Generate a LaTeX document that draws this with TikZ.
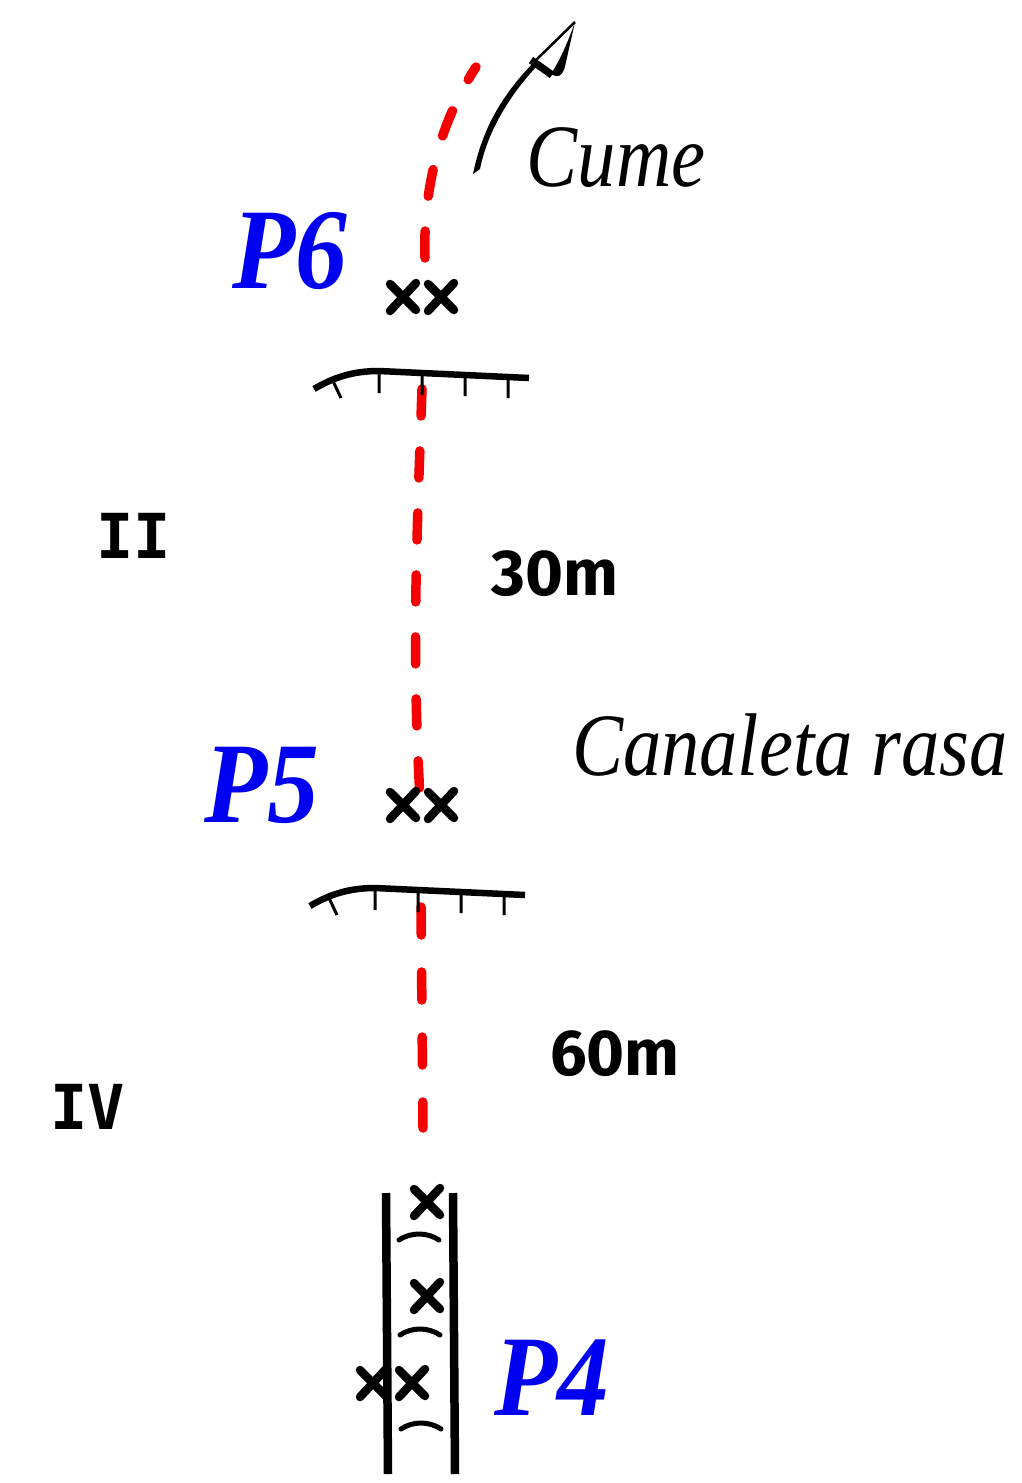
\documentclass[tikz,border=0pt]{standalone}
\usepackage{fontspec}
\setmainfont{Liberation Serif}
\newfontfamily\noteFont[ItalicFeatures={FakeStretch=0.86}]{Liberation Serif}
\newfontfamily\pitchFont[BoldItalicFeatures={FakeStretch=0.9}]{Liberation Serif}
\newfontfamily\grauFont{DejaVu Sans Mono}
\newfontfamily\metroFont{Fira Sans}
\usetikzlibrary{positioning,calc}
\definecolor{routered}{RGB}{245,0,0}
\definecolor{belayblue}{RGB}{0,0,240}
\tikzset{
  route/.style={draw=routered, line width=9.5pt, line cap=round, dash pattern=on 27pt off 35pt},
  boltline/.style={line width=8.5pt, line cap=round},
  pitchlabel/.style={anchor=base, inner sep=0pt, text=belayblue, font=\fontsize{115}{115}\selectfont\pitchFont\bfseries\itshape},
  notelabel/.style={anchor=base, inner sep=0pt, font=\fontsize{89}{89}\selectfont\noteFont\itshape},
  gradelabel/.style={anchor=base, inner sep=0pt, font=\fontsize{62}{62}\selectfont\grauFont\bfseries},
  lengthlabel/.style={anchor=base, inner sep=0pt, font=\fontsize{65}{65}\selectfont\metroFont\bfseries},
  wall/.style={line width=8.5pt},
  bolt/.pic={\draw[boltline] (-13,-13) -- (13,13) (13,-14) -- (-13,14);},
  ring/.pic={\draw[line width=5pt, line cap=round] (-20,4) .. controls (-8,-4) and (8,-4) .. (20,4);},
  roof/.pic={
    \draw[line width=6.5pt] (0,0) .. controls (20,-12) and (40,-18) .. (65,-18) -- (215,-11);
    \draw[line width=3pt] (19,-8) -- (27,9) (65,-18) -- (65,4) (108,-16) -- (108,6)
      (151,-14) -- (151,7) (194,-12) -- (194,9);
  }
}
\begin{document}
\begin{tikzpicture}[x=1pt,y=-1pt]
  \useasboundingbox (0,0) rectangle (1021,1483);
  % route
  \coordinate (p6top) at (476,67);
  \coordinate (p6low) at (425,258);
  \coordinate (roofsix) at (422,389);
  \coordinate (p5low) at (420,798);
  \coordinate (roofive) at (421,907);
  \coordinate (p4top) at (423,1128);
  \draw[route] (p6low) .. controls (423,200) and (435,130) .. (p6top);
  \draw[route] (roofsix) .. controls (416,560) and (412,650) .. (p5low);
  \draw[route, dash pattern=on 28pt off 37pt] (roofive) -- (p4top);
  % belays
  \pic at (403,297) {bolt};
  \pic at (441,297) {bolt};
  \pic at (403,805) {bolt};
  \pic at (441,805) {bolt};
  \pic at (427,1202) {bolt};
  \pic at (427,1296) {bolt};
  \pic at (373,1383) {bolt};
  \pic at (412,1383) {bolt};
  % roofs
  \pic at (314,389) {roof};
  \pic at (310,906) {roof};
  % dihedral
  \coordinate (leftwalltop) at (386,1193);
  \coordinate (leftwallend) at (388,1474);
  \coordinate (rightwalltop) at (453,1193);
  \coordinate (rightwallend) at (455,1474);
  \draw[wall] (leftwalltop) -- (leftwallend);
  \draw[wall] (rightwalltop) -- (rightwallend);
  \pic at (419,1236) {ring};
  \pic at (420,1331) {ring};
  \pic at (421,1425) {ring};
  % arrow to the summit
  \coordinate (cumetail) at (473,174);
  \coordinate (cumeneck) at (534,62);
  \coordinate (cumetip) at (575,22);
  \fill (cumetail) .. controls (483,125) and (505,92) .. (cumeneck)
    -- (537,66) .. controls (510,95) and (488,130) .. (480,169) -- cycle;
  \draw[line width=7.5pt] (531,60) -- (552,75);
  \draw[line width=2.5pt] (cumeneck) -- (cumetip);
  \fill (cumetip) .. controls (568,42) and (560,60) .. (551,74)
    .. controls (561,80) and (564,72) .. (566,62) -- cycle;
  % labels
  \node[notelabel] (cume) at (616,186) {Cume};
  \node[notelabel] (canaleta) at (790,775) {Canaleta rasa};
  \node[pitchlabel] (psix) at (290,288) {P6};
  \node[pitchlabel] (pfive) at (262,822) {P5};
  \node[pitchlabel] (pfour) at (552,1415) {P4};
  \node[gradelabel] (gradeii) at (134,558) {II};
  \node[gradelabel] (gradeiv) at (88,1129) {IV};
  \node[lengthlabel] (lenthirty) at (555,595) {30m};
  \node[lengthlabel] (lensixty) at (615,1075) {60m};
\end{tikzpicture}
\end{document}
